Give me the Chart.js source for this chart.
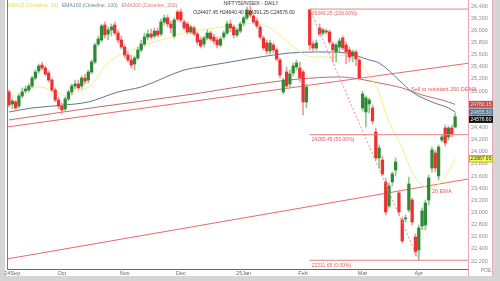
<!DOCTYPE html>
<html>
<head>
<meta charset="utf-8">
<script src="https://cdn.jsdelivr.net/npm/chart.js@4.4.1/dist/chart.umd.min.js"></script>
<style>
  html, body { margin: 0; padding: 0; background: #d5d5d5; }
</style>
</head>
<body>
<canvas id="chart" width="500" height="281"></canvas>
<script>
// daily candles, [open, high, low, close]
const ohlc = [
  [24984,25017,24737,24770],[24786,24869,24704,24836],[24819,24852,24671,24720],[24753,24951,24720,24918],
  [24918,25050,24885,24984],[25000,25083,24967,25033],[25017,25116,24984,25083],[25083,25247,25050,25214],
  [25214,25346,25181,25313],[25330,25445,25297,25412],[25428,25478,25346,25379],[25379,25412,25247,25280],
  [25297,25330,25149,25181],[25181,25214,24984,25017],[25017,25050,24819,24852],[24852,24901,24704,24753],
  [24753,24803,24621,24687],[24704,24901,24671,24869],[24869,25017,24836,24984],[24984,25116,24934,25083],
  [25083,25181,25033,25116],[25116,25181,25017,25050],[25083,25247,25033,25214],[25214,25280,25116,25165],
  [25181,25346,25132,25313],[25313,25511,25280,25478],[25478,25791,25445,25758],[25774,25906,25741,25857],
  [25840,26104,25807,26071],[26087,26137,25873,25923],[25939,26054,25840,26005],[26005,26104,25906,26054],
  [26087,26137,25923,25955],[25955,26005,25791,25840],[25840,25906,25692,25725],[25725,25758,25544,25593],
  [25593,25643,25478,25511],[25511,25593,25379,25428],[25445,25577,25346,25544],[25544,25725,25511,25676],
  [25676,25840,25643,25774],[25774,25955,25741,25890],[25890,26005,25840,25939],[25939,26021,25857,25890],
  [25906,26038,25873,25988],[25988,26038,25890,25923],[25939,26186,25906,26137],[26137,26252,26087,26203],
  [26203,26252,26054,26104],[26104,26153,25955,26038],[25906,26203,25873,26170],[26301,26334,26153,26186],
  [26301,26351,26137,26170],[26137,26170,26005,26038],[26104,26137,25939,25972],[25972,26087,25939,26054],
  [26038,26071,25906,25939],[25939,25972,25758,25807],[25840,25890,25708,25741],[25774,25906,25725,25873],
  [25873,26005,25840,25955],[25955,25988,25824,25857],[25890,25939,25774,25824],[25840,25890,25708,25758],
  [25758,25890,25725,25857],[25890,25988,25857,25955],[25955,26153,25923,26104],[26104,26170,25972,26038],
  [26054,26087,25873,25923],[25923,26038,25890,26005],[25988,26137,25955,26104],[26120,26236,26071,26203],
  [26203,26384,26170,26334],[26318,26400,26219,26252],[26236,26268,26104,26137],[26153,26203,26038,26071],
  [26054,26087,25857,25890],[25873,25906,25676,25708],[25791,25840,25610,25659],[25659,25840,25610,25791],
  [25758,25791,25626,25676],[25676,25708,25494,25527],[25511,25544,25214,25264],[24984,25214,24951,25181],
  [25313,25396,25050,25083],[25116,25346,25050,25280],[25297,25461,25247,25412],[25396,25511,25346,25461],
  [25379,25478,25149,25214],[25313,25346,24605,24819],[24819,25116,24720,25066],[26340,26349.25,25676,25758],
  [25774,25824,25643,25708],[25708,25840,25676,25791],[26038,26104,25906,25939],[25955,26038,25923,26005],
  [25988,26021,25939,25972],[25972,26005,25774,25807],[25774,25807,25478,25676],[25643,25791,25478,25758],
  [25725,25873,25643,25824],[25873,25906,25676,25708],[25758,25807,25445,25643],[25676,25725,25478,25560],
  [25577,25676,25478,25643],[25643,25676,25412,25527],[25511,25544,25181,25214],[24720,25000,24671,24951],
  [24654,24918,24407,24885],[24786,24885,24638,24852],[24720,24770,24457,24506],[24325,24391,23864,23897],
  [23897,24111,23732,24062],[23864,23930,23601,23634],[23502,23568,22958,23008],[23107,23485,23074,23436],
  [23502,23667,23436,23634],[23699,23897,23601,23831],[23321,23370,22958,23008],[22876,22925,22496,22529],
  [22892,22958,22843,22909],[23041,23584,23008,23469],[23205,23238,22793,22843],[22595,22645,22282,22348],
  [22381,22793,22211.65,22744],[22777,23074,22711,23024],[22793,23205,22711,23156],[23205,23617,23123,23568],
  [23732,24078,23667,24029],[23979,24029,23667,23732],[23601,24111,23535,24078],[24193,24276,24160,24243],
  [24391,24440,24094,24144],[24243,24424,24193,24391],[24391,24440,24243,24292],[24407.45,24640.40,24391.25,24576.60]
];

// moving averages as [bar index, value]
const ema20 = [
  [0,24852],[3,24967],[9,25066],[12,25033],[15,24967],[17,24918],[22,25017],[25,25099],[29,25412],
  [33,25577],[37,25676],[42,25774],[48,25873],[52,25939],[56,25988],[60,26021],[64,26054],[70,26087],
  [74,26120],[79,26038],[83,25873],[88,25643],[92,25560],[97,25560],[102,25593],[106,25478],[109,25264],
  [112,24967],[115,24490],[119,24062],[122,23667],[125,23452],[128,23403],[131,23518],[133,23667],[135,23887.95]
];
const ema100 = [
  [0,24654],[7,24720],[17,24770],[24,24819],[33,24984],[40,25066],[53,25346],[58,25396],[67,25478],
  [76,25560],[85,25626],[94,25643],[102,25626],[109,25511],[112,25461],[118,25181],[122,24984],
  [128,24819],[133,24720],[135,24655.30]
];
const ema200 = [
  [0,24523],[27,24737],[58,24967],[73,25099],[88,25198],[100,25231],[106,25198],[112,25132],
  [119,25050],[125,24934],[131,24852],[135,24780.15]
];

// drawn trend lines [bar index, price]
const channelTop = [[-0.6,24407],[138.9,25457]];
const channelLow = [[-0.6,22233],[138.9,23550]];
const fibStart = 91;
const fibEnd = 124;
const fibLevels = [26349.25, 24280.45, 22211.65];
const fibNames = ['26349.25 (100.00%)', '24280.45 (50.00%)', '22211.65 (0.00%)'];

const monthIdx = [1, 16, 35, 52, 71, 89, 107, 124];
const monthNames = ['24Sep', 'Oct', 'Nov', 'Dec', '25Jan', 'Feb', 'Mar', 'Apr'];
const yTicks = [26400,26200,26000,25800,25600,25400,25200,25000,24800,24600,24400,
  24200,24000,23800,23600,23400,23200,23000,22800,22600,22400,22200];

const XMIN = -0.6, XMAX = 138.9;
const UP = '#2f8a34', DOWN = '#ee3030';
const FONT = 'Arial, "Liberation Sans", sans-serif';

const isUp = ohlc.map(c => c[3] >= c[0]);
const pts = arr => arr.map(p => ({ x: p[0], y: p[1] }));

function line(data, color, extra) {
  return Object.assign({
    type: 'line', data: pts(data), borderColor: color, borderWidth: 1,
    pointRadius: 0, fill: false, order: 3, cubicInterpolationMode: 'monotone'
  }, extra || {});
}

const decor = {
  id: 'decor',
  beforeDraw(chart) {
    const ctx = chart.ctx;
    ctx.save();
    ctx.fillStyle = '#d5d5d5';
    ctx.fillRect(0, 0, 500, 281);
    ctx.fillStyle = '#ffffff';
    ctx.fillRect(5, 0, 488, 276);
    ctx.restore();
  },
  afterDraw(chart) {
    const ctx = chart.ctx;
    const xs = chart.scales.x, ys = chart.scales.y;
    const area = chart.chartArea;
    ctx.save();

    // frame lines
    ctx.strokeStyle = '#7a7a7a';
    ctx.lineWidth = 1;
    ctx.beginPath();
    ctx.moveTo(area.left + 0.5, 0);
    ctx.lineTo(area.left + 0.5, area.bottom);
    ctx.stroke();
    ctx.strokeStyle = '#e6a6c6';
    ctx.beginPath();
    ctx.moveTo(492.5, 0);
    ctx.lineTo(492.5, 276);
    ctx.moveTo(area.right + 0.5, area.bottom);
    ctx.lineTo(area.right + 0.5, 276);
    ctx.stroke();

    // legend of moving averages
    ctx.font = '5px ' + FONT;
    ctx.textBaseline = 'middle';
    ctx.textAlign = 'left';
    let x = 8;
    [['EMA20 (Closeline, 20)', '#e6df55'], ['EMA100 (Closeline, 100)', '#6f86a0'],
     ['EMA200 (Closeline, 200)', '#e07878']].forEach(([t, c]) => {
      ctx.fillStyle = c;
      ctx.fillText(t, x, 6);
      x += ctx.measureText(t).width + 4;
    });

    // title
    const last = ohlc[ohlc.length - 1];
    ctx.fillStyle = '#333';
    ctx.textAlign = 'center';
    ctx.fillText('NIFTY50/NSEIX - DAILY', 251, 4);
    ctx.fillText('O' + last[0].toFixed(2) + ' H' + last[1].toFixed(2) + ' L' + last[2].toFixed(2) +
      ' C' + last[3].toFixed(2), 244, 13);

    // fibonacci labels
    ctx.textAlign = 'left';
    ctx.fillStyle = '#e45a5a';
    fibLevels.forEach((v, k) => {
      ctx.fillText(fibNames[k], xs.getPixelForValue(fibStart) + 2, ys.getPixelForValue(v) + 5);
    });

    // notes
    ctx.font = '5.5px ' + FONT;
    ctx.fillText('Sell to resistant 200 DEMA', 411, 89);
    ctx.fillText('20 EMA', 432, 191);

    // value boxes on the price axis
    ctx.font = '5px ' + FONT;
    const boxes = [
      { v: ema200[ema200.length - 1][1], bg: '#c25252', fg: '#f3d0d0' },
      { v: ema100[ema100.length - 1][1], bg: '#5d7891', fg: '#d8e2ec' },
      { v: last[3], bg: '#111111', fg: '#ffffff' },
      { v: ema20[ema20.length - 1][1], bg: '#fcfc58', fg: '#333333' }
    ];
    let prev = -100;
    boxes.forEach(b => {
      let y = ys.getPixelForValue(b.v);
      if (y < prev + 7.5) y = prev + 7.5;
      prev = y;
      ctx.fillStyle = b.bg;
      ctx.fillRect(area.right + 1, y - 3.5, 24, 7);
      if (b.bg === '#fcfc58') {
        ctx.strokeStyle = '#b8b820';
        ctx.strokeRect(area.right + 1.5, y - 3, 23, 6.5);
      }
      ctx.fillStyle = b.fg;
      ctx.textAlign = 'center';
      ctx.fillText(b.v.toFixed(2), area.right + 13, y + 0.5);
    });

    ctx.fillStyle = '#888';
    ctx.textAlign = 'center';
    ctx.fillText('POE', 486, 271);
    ctx.restore();
  }
};

new Chart(document.getElementById('chart'), {
  type: 'bar',
  data: {
    datasets: [
      {
        data: ohlc.map((c, i) => ({ x: i, y: [c[0], c[3]] })),
        backgroundColor: isUp.map(u => (u ? UP : DOWN)),
        barThickness: 2.6,
        minBarLength: 1,
        grouped: false,
        order: 1
      },
      {
        data: ohlc.map((c, i) => ({ x: i, y: [c[2], c[1]] })),
        backgroundColor: isUp.map(u => (u ? '#8ec68e' : '#f29a9a')),
        barThickness: 1,
        grouped: false,
        order: 2
      },
      line(ema20, '#f3ee8a'),
      line(ema100, '#5f7891'),
      line(ema200, '#c56c6c'),
      line(channelTop, '#e86a6a', { cubicInterpolationMode: 'default', tension: 0 }),
      line(channelLow, '#e86a6a', { cubicInterpolationMode: 'default', tension: 0 }),
      line([[fibStart, fibLevels[0]], [fibEnd, fibLevels[2]]], '#f08a8a',
        { cubicInterpolationMode: 'default', tension: 0, borderDash: [2, 2], order: 0 }),
      ...fibLevels.map(v => line([[fibStart, v], [XMAX, v]], '#ee8080',
        { cubicInterpolationMode: 'default', tension: 0, order: 0 }))
    ]
  },
  options: {
    responsive: false,
    animation: false,
    layout: { padding: { left: 7, top: 0, right: 0, bottom: 0 } },
    plugins: { legend: { display: false }, tooltip: { enabled: false } },
    scales: {
      x: {
        type: 'linear',
        offset: false,
        min: XMIN,
        max: XMAX,
        afterBuildTicks: s => { s.ticks = monthIdx.map(v => ({ value: v })); },
        afterFit: s => { s.height = 12; s.paddingLeft = 0; s.paddingRight = 0; },
        ticks: {
          autoSkip: false,
          maxRotation: 0,
          padding: 1,
          color: '#666',
          font: { size: 5.5, family: FONT },
          callback: v => monthNames[monthIdx.indexOf(v)]
        },
        grid: { display: false, drawTicks: false, offset: false },
        border: { color: '#666' }
      },
      y: {
        position: 'right',
        min: 22068,
        max: 26499,
        afterBuildTicks: s => { s.ticks = yTicks.map(v => ({ value: v })); },
        afterFit: s => { s.width = 32; s.paddingTop = 0; s.paddingBottom = 0; },
        ticks: {
          padding: 3,
          color: '#8c8c8c',
          font: { size: 5.5, family: FONT }
        },
        grid: { display: false, drawTicks: false },
        border: { color: '#e6a6c6' }
      }
    }
  },
  plugins: [decor]
});
</script>
</body>
</html>
